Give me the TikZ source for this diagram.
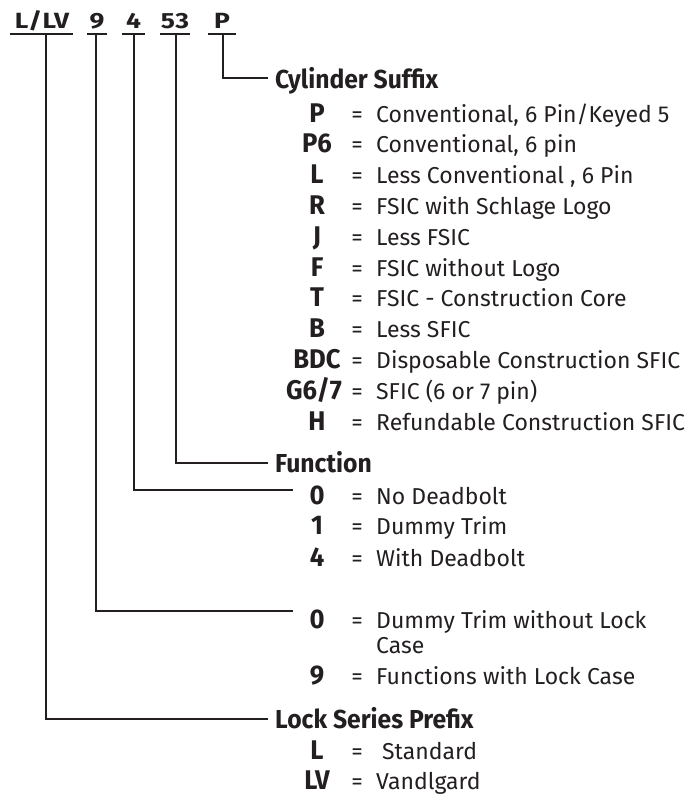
\documentclass[tikz,border=0pt]{standalone}
\usepackage{fontspec}
\setmainfont{Fira Sans}
\newfontfamily\bfam{Fira Sans}[FakeStretch=0.95]
\newfontfamily\tfam{Fira Sans}[FakeStretch=1.2,LetterSpace=2]
\definecolor{ink}{HTML}{231F20}
\begin{document}
\begin{tikzpicture}[x=1pt,y=-1pt,
  ln/.style={draw=ink,line width=1.7pt},
  lab/.style={font=\tfam\fontsize{22}{22}\selectfont\bfseries,text=ink,anchor=base,inner sep=0pt},
  head/.style={font=\bfam\fontsize{26}{26}\selectfont\bfseries,text=ink,anchor=base west,inner sep=0pt},
  key/.style={font=\bfam\fontsize{27}{27}\selectfont\bfseries,text=ink,anchor=base,inner sep=0pt},
  eqs/.style={font=\fontsize{23}{23}\selectfont,text=ink,anchor=base,inner sep=0pt},
  desc/.style={font=\fontsize{23}{23}\selectfont,text=ink,anchor=base west,inner sep=0pt}]
\useasboundingbox (0,0) rectangle (690,795);
% top code
\node[lab] (tLLV) at (42,28) {L/LV};
\node[lab] (t9) at (97,28) {9};
\node[lab] (t4) at (133.5,28) {4};
\node[lab] (t53) at (175,28) {53};
\node[lab] (tP) at (222,28) {P};
\draw[ln] (10,34) -- (73,34);
\draw[ln] (87,34) -- (107,34);
\draw[ln] (122,34) -- (145,34);
\draw[ln] (160,34) -- (190,34);
\draw[ln] (208,34) -- (236,34);
\coordinate (uLLV) at (46,34);
\coordinate (u9) at (96,34);
\coordinate (u4) at (134,34);
\coordinate (u53) at (176,34);
\coordinate (uP) at (223,34);
\coordinate (eCyl) at (268,78);
\coordinate (eFun) at (268,463);
\coordinate (eF4) at (293,490);
\coordinate (eF9) at (293,611);
\coordinate (eLock) at (268,719);
\draw[ln] (uP) |- (eCyl);
\draw[ln] (u53) |- (eFun);
\draw[ln] (u4) |- (eF4);
\draw[ln] (u9) |- (eF9);
\draw[ln] (uLLV) |- (eLock);
% Cylinder suffix
\node[head] (hCyl) at (275,88) {Cylinder Suffix};
\node[key] (kP) at (317,122) {P};
\node[eqs] (qP) at (357,122) {=};
\node[desc] (dP) at (376,122) {Conventional, 6 Pin/Keyed 5};
\node[key] (kP6) at (317,152.8) {P6};
\node[eqs] (qP6) at (357,152.8) {=};
\node[desc] (dP6) at (376,152.8) {Conventional, 6 pin};
\node[key] (kL) at (317,183.6) {L};
\node[eqs] (qL) at (357,183.6) {=};
\node[desc] (dL) at (376,183.6) {Less Conventional , 6 Pin};
\node[key] (kR) at (317,214.4) {R};
\node[eqs] (qR) at (357,214.4) {=};
\node[desc] (dR) at (376,214.4) {FSIC with Schlage Logo};
\node[key] (kJ) at (317,245.2) {J};
\node[eqs] (qJ) at (357,245.2) {=};
\node[desc] (dJ) at (376,245.2) {Less FSIC};
\node[key] (kF) at (317,276) {F};
\node[eqs] (qF) at (357,276) {=};
\node[desc] (dF) at (376,276) {FSIC without Logo};
\node[key] (kT) at (317,306.8) {T};
\node[eqs] (qT) at (357,306.8) {=};
\node[desc] (dT) at (376,306.8) {FSIC - Construction Core};
\node[key] (kB) at (317,337.6) {B};
\node[eqs] (qB) at (357,337.6) {=};
\node[desc] (dB) at (376,337.6) {Less SFIC};
\node[key] (kBDC) at (317,368.4) {BDC};
\node[eqs] (qBDC) at (357,368.4) {=};
\node[desc] (dBDC) at (376,368.4) {Disposable Construction SFIC};
\node[key] (kG) at (314,399.2) {G6/7};
\node[eqs] (qG) at (357,399.2) {=};
\node[desc] (dG) at (376,399.2) {SFIC (6 or 7 pin)};
\node[key] (kH) at (317,430) {H};
\node[eqs] (qH) at (357,430) {=};
\node[desc] (dH) at (376,430) {Refundable Construction SFIC};
% Function
\node[head] (hFun) at (275,472) {Function};
\node[key] (kF0) at (317,504) {0};
\node[eqs] (qF0) at (357,504) {=};
\node[desc] (dF0) at (376,504) {No Deadbolt};
\node[key] (kF1) at (317,534) {1};
\node[eqs] (qF1) at (357,534) {=};
\node[desc] (dF1) at (376,534) {Dummy Trim};
\node[key] (kF4) at (317,566) {4};
\node[eqs] (qF4) at (357,566) {=};
\node[desc] (dF4) at (376,566) {With Deadbolt};
% lock case
\node[key] (kC0) at (317,628) {0};
\node[eqs] (qC0) at (357,628) {=};
\node[desc] (dC0) at (376,628) {Dummy Trim without Lock};
\node[desc] (dC0b) at (376,653) {Case};
\node[key] (kC9) at (317,684) {9};
\node[eqs] (qC9) at (357,684) {=};
\node[desc] (dC9) at (376,684) {Functions with Lock Case};
% Lock series prefix
\node[head] (hLock) at (275,728) {Lock Series Prefix};
\node[key] (kSL) at (317,759) {L};
\node[eqs] (qSL) at (357,759) {=};
\node[desc] (dSL) at (382,759) {Standard};
\node[key] (kSLV) at (317,789) {LV};
\node[eqs] (qSLV) at (357,789) {=};
\node[desc] (dSLV) at (376,789) {Vandlgard};
\end{tikzpicture}
\end{document}
